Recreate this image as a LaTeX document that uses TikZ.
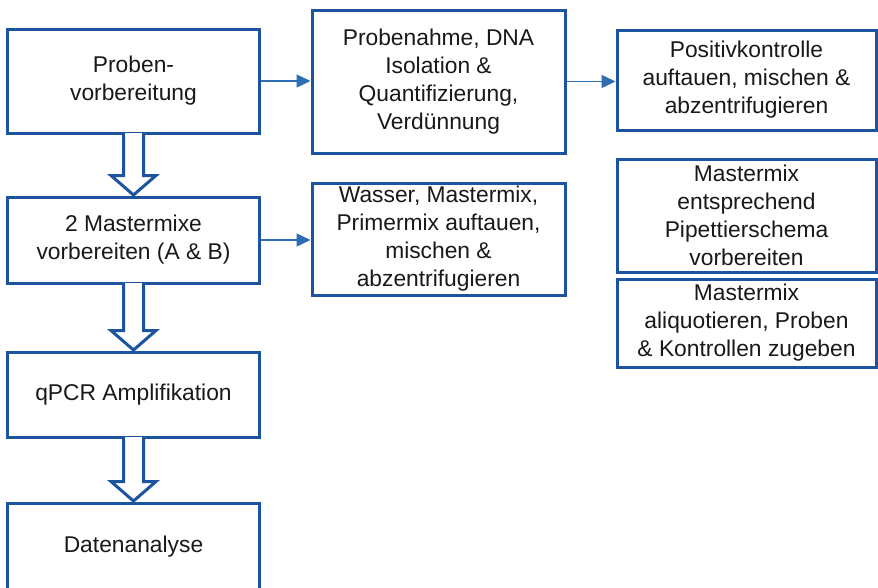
\documentclass[tikz,border=0pt]{standalone}
\usepackage{fontspec}
\setmainfont{Liberation Sans}
\usetikzlibrary{calc,arrows.meta}
\definecolor{boxblue}{RGB}{28,84,160}
\definecolor{thinblue}{RGB}{46,108,180}
\definecolor{txt}{RGB}{25,25,25}
\tikzset{
  flowbox/.style={draw=boxblue, line width=3pt, fill=white, rectangle, inner sep=2pt,
    align=center, text=txt, font=\fontsize{22.8}{28}\selectfont},
  thinarr/.style={draw=thinblue, line width=1.4pt, -{Triangle[length=14pt,width=13pt]}},
  bigarr/.style={draw=boxblue, line width=3pt, fill=white, line join=miter}
}
\newcommand\bigdownarrow[2]{%
  \draw[bigarr] ($(#1.south)+(-10,-1.5)$) -- ($(#2.north)+(-10,-20)$) -- ($(#2.north)+(-22.5,-20)$)
    -- ($(#2.north)+(0,-0.5)$) -- ($(#2.north)+(22.5,-20)$) -- ($(#2.north)+(10,-20)$) -- ($(#1.south)+(10,-1.5)$);}
\begin{document}
\begin{tikzpicture}[x=1pt,y=-1pt]
\clip (0,0) rectangle (878,587);
\fill[white] (0,0) rectangle (878,587);
% left column
\node[flowbox, minimum width=252pt, minimum height=104pt] (b1) at (133.5,81) {Proben-\\vorbereitung};
\node[flowbox, minimum width=252pt, minimum height=86pt] (b2) at (133.5,240) {2 Mastermixe\\vorbereiten (A \& B)};
\node[flowbox, minimum width=252pt, minimum height=85pt] (b3) at (133.5,394.5) {qPCR Amplifikation};
\node[flowbox, minimum width=252pt, minimum height=88pt] (b4) at (133.5,547) {Datenanalyse};
% middle column
\node[flowbox, minimum width=253pt, minimum height=143pt] (b5) at (438.5,81.5) {Probenahme, DNA\\Isolation \&\\Quantifizierung,\\Verdünnung};
\node[flowbox, minimum width=253pt, minimum height=112pt] (b6) at (438.5,239) {Wasser, Mastermix,\\Primermix auftauen,\\mischen \&\\abzentrifugieren};
% right column
\node[flowbox, minimum width=259pt, minimum height=100pt] (b7) at (746.5,80) {Positivkontrolle\\auftauen, mischen \&\\abzentrifugieren};
\node[flowbox, minimum width=259pt, minimum height=113pt] (b8) at (746.5,215.5) {Mastermix\\entsprechend\\Pipettierschema\\vorbereiten};
\node[flowbox, minimum width=259pt, minimum height=88pt] (b9) at (746.5,323) {Mastermix\\aliquotieren, Proben\\\& Kontrollen zugeben};
% big hollow arrows
\bigdownarrow{b1}{b2}
\bigdownarrow{b2}{b3}
\bigdownarrow{b3}{b4}
% thin arrows
\draw[thinarr] (b1.east) -- (b5.west |- b1.east);
\draw[thinarr] (b2.east) -- (b6.west |- b2.east);
\draw[thinarr] (b5.east) -- (b7.west |- b5.east);
\end{tikzpicture}
\end{document}
